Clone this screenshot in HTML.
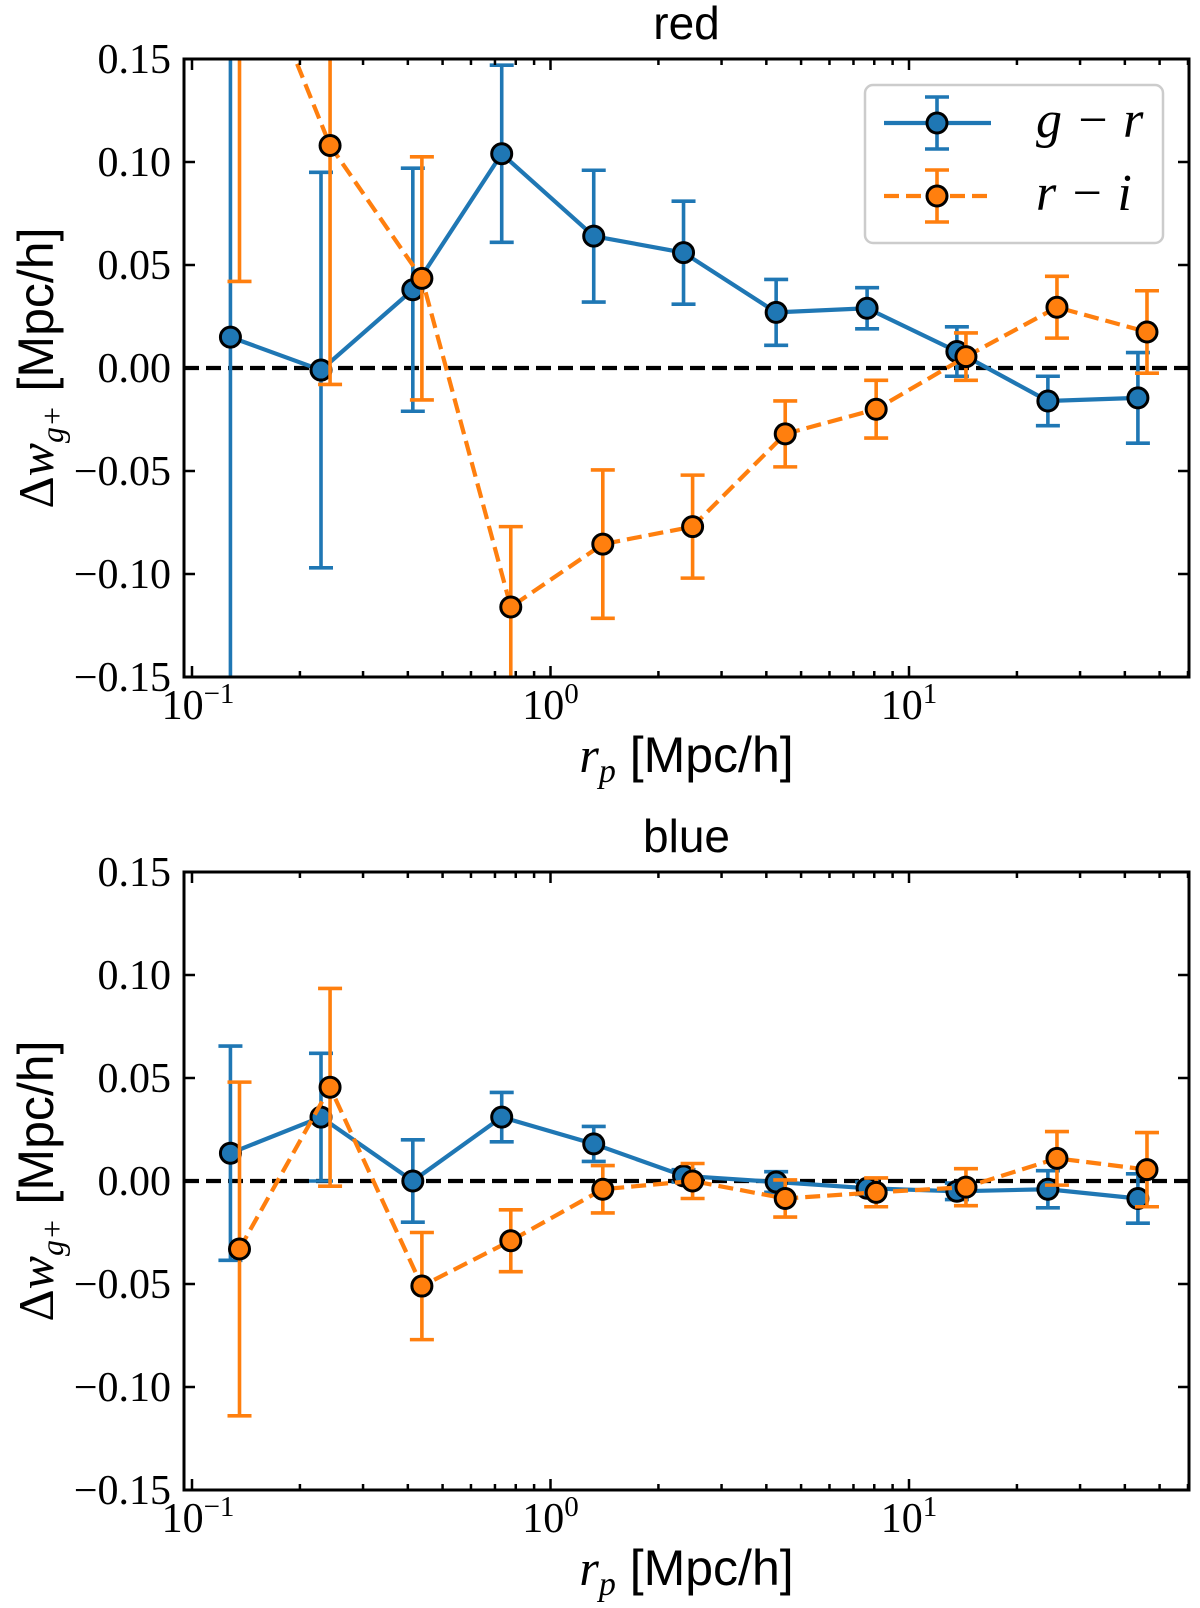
<!DOCTYPE html>
<html><head><meta charset="utf-8"><style>
body{margin:0;background:#fff}
svg{display:block}
text{font-family:"Liberation Serif",serif;fill:#000}
.sans{font-family:"Liberation Sans","DejaVu Sans",sans-serif}
</style></head><body>
<svg id="chart" width="1200" height="1608" viewBox="0 0 1200 1608" xmlns="http://www.w3.org/2000/svg"></svg>
<script>
const rp = [0.128, 0.229, 0.413, 0.731, 1.32, 2.35, 4.26, 7.64, 13.6, 24.4, 43.5];
const orangeShift = 1.06;
const yTicks = [-0.15, -0.10, -0.05, 0.00, 0.05, 0.10, 0.15];
const yTickLabels = ["\u22120.15", "\u22120.10", "\u22120.05", "0.00", "0.05", "0.10", "0.15"];
const xDecades = [-1, 0, 1];
const redGR = [0.015, -0.001, 0.038, 0.104, 0.064, 0.056, 0.027, 0.029, 0.008, -0.016, -0.0145];
const redGRerr = [0.2, 0.096, 0.059, 0.043, 0.032, 0.025, 0.016, 0.01, 0.012, 0.012, 0.022];
const redRI = [0.217, 0.108, 0.0435, -0.116, -0.0855, -0.077, -0.032, -0.020, 0.0055, 0.0295, 0.0175];
const redRIerr = [0.175, 0.116, 0.059, 0.039, 0.036, 0.025, 0.016, 0.014, 0.0115, 0.015, 0.02];
const blueGR = [0.0135, 0.031, 0.0, 0.031, 0.018, 0.0025, -0.0005, -0.0035, -0.005, -0.004, -0.0085];
const blueGRerr = [0.052, 0.031, 0.02, 0.012, 0.0085, 0.003, 0.005, 0.003, 0.004, 0.009, 0.012];
const blueRI = [-0.033, 0.0455, -0.051, -0.029, -0.004, 0.0, -0.0085, -0.0055, -0.003, 0.011, 0.0055];
const blueRIerr = [0.081, 0.048, 0.026, 0.015, 0.0115, 0.0085, 0.009, 0.007, 0.009, 0.013, 0.018];

const NS = "http://www.w3.org/2000/svg";
const svg = document.getElementById("chart");
const BLUE = "#1f77b4", ORANGE = "#ff7f0e";
const LW = 4.2, DASH = "15 7";
function mk(tag, attrs, parent) {
  const e = document.createElementNS(NS, tag);
  for (const k in attrs) e.setAttribute(k, attrs[k]);
  (parent || svg).appendChild(e);
  return e;
}
const L = 184, R = 1189, LOGMIN = -1.0223, LOGMAX = 1.781;
function xs(v) { return L + (Math.log10(v) - LOGMIN) / (LOGMAX - LOGMIN) * (R - L); }

function panel(top, title, gr, grErr, ri, riErr, idx, legend) {
  const bot = top + 618;
  const ys = v => top + (0.15 - v) / 0.30 * (bot - top);
  const g = mk("g", {});
  
  
  const cid = "clip" + idx;
  const cp = mk("clipPath", { id: cid }, g);
  mk("rect", { x: L, y: top, width: R - L, height: bot - top }, cp);
  const t = mk("text", { x: (L + R) / 2, y: top - 20, "text-anchor": "middle", "font-size": 46, class: "sans" }, g);
  t.textContent = title;
  
  
  const z = mk("line", { x1: L, x2: R, y1: ys(0), y2: ys(0), stroke: "#000", "stroke-width": LW, "stroke-dasharray": DASH }, g);
  
  
  const dg = mk("g", { "clip-path": "url(#" + cid + ")" }, g);
  function series(vals, errs, color, shift, dashed, name) {
    const sg = mk("g", {}, dg);
    
    
    vals.forEach((v, i) => {
      const x = xs(rp[i] * shift);
      const eb = mk("path", { d: `M${x},${ys(v - errs[i])}V${ys(v + errs[i])}M${x - 12},${ys(v - errs[i])}h24M${x - 12},${ys(v + errs[i])}h24`, stroke: color, "stroke-width": 3.6, fill: "none" }, sg);
      
      
    });
    const pts = vals.map((v, i) => xs(rp[i] * shift) + "," + ys(v)).join(" ");
    const pl = mk("polyline", { points: pts, fill: "none", stroke: color, "stroke-width": LW, "stroke-dasharray": dashed ? DASH : "none" }, sg);
    
    
    vals.forEach((v, i) => {
      const c = mk("circle", { cx: xs(rp[i] * shift), cy: ys(v), r: 10, fill: color, stroke: "#000", "stroke-width": 3 }, sg);
      
      
    });
  }
  series(gr, grErr, BLUE, 1, false, "g-r");
  series(ri, riErr, ORANGE, orangeShift, true, "r-i");
  const fr = mk("rect", { x: L, y: top, width: R - L, height: bot - top, fill: "none", stroke: "#000", "stroke-width": 3 }, g);
  
  
  yTicks.forEach((v, i) => {
    const y = ys(v);
    mk("path", { d: `M${L},${y}h11M${R},${y}h-11`, stroke: "#000", "stroke-width": 2.5 }, g);
    const tl = mk("text", { x: 171, y: y + 14, "text-anchor": "end", "font-size": 42 }, g);
    tl.textContent = yTickLabels[i];
    
    
  });
  for (let d = -2; d <= 2; d++) {
    for (let m = 1; m <= 9; m++) {
      const v = m * Math.pow(10, d);
      const lv = Math.log10(v);
      if (lv < LOGMIN || lv > LOGMAX) continue;
      const x = xs(v), len = m === 1 ? 11 : 6;
      mk("path", { d: `M${x},${bot}v${-len}M${x},${top}v${len}`, stroke: "#000", "stroke-width": 2.5 }, g);
    }
  }
  xDecades.forEach(d => {
    const x = xs(Math.pow(10, d));
    const tl = mk("text", { x: x + (d < 0 ? 6 : 0), y: bot + 42, "text-anchor": "middle", "font-size": 42 }, g);
    
    
    tl.appendChild(document.createTextNode("10"));
    const s = mk("tspan", { dy: -16, "font-size": 29 }, tl);
    s.textContent = d < 0 ? "\u2212" + Math.abs(d) : String(d);
  });
  const xl = mk("text", { x: (L + R) / 2, y: bot + 95, "text-anchor": "middle", "font-size": 50 }, g);
  
  
  const a = mk("tspan", { "font-style": "italic" }, xl); a.textContent = "r";
  const b = mk("tspan", { "font-style": "italic", "font-size": 34, dy: 10 }, xl); b.textContent = "p";
  const c = mk("tspan", { dy: -10, "font-family": "Liberation Sans, sans-serif" }, xl); c.textContent = " [Mpc/h]";
  const cy = (top + bot) / 2;
  const yl = mk("text", { x: 0, y: 0, transform: `translate(53,${cy}) rotate(-90)`, "text-anchor": "middle", "font-size": 50 }, g);
  
  
  const p1 = mk("tspan", {}, yl); p1.textContent = "\u0394";
  const p2 = mk("tspan", { "font-style": "italic" }, yl); p2.textContent = "w";
  const p3 = mk("tspan", { "font-style": "italic", "font-size": 32, dy: 10 }, yl); p3.textContent = "g+";
  const p4 = mk("tspan", { dy: -10, "font-family": "Liberation Sans, sans-serif" }, yl); p4.textContent = " [Mpc/h]";

  if (legend) {
    const lg = mk("g", {}, g);
    
    
    mk("rect", { x: 865, y: 85, width: 298, height: 158, rx: 8, fill: "#fff", stroke: "#ccc", "stroke-width": 2.5 }, lg);
    [[123, BLUE, false, "g \u2212 r"], [196, ORANGE, true, "r \u2212 i"]].forEach(([y, col, dash, lab]) => {
      const e = mk("g", {}, lg);
      
      
      mk("line", { x1: 884, x2: 991, y1: y, y2: y, stroke: col, "stroke-width": LW, "stroke-dasharray": dash ? DASH : "none" }, e);
      mk("path", { d: `M937,${y - 26}V${y + 26}M925,${y - 26}h24M925,${y + 26}h24`, stroke: col, "stroke-width": 3.6 }, e);
      mk("circle", { cx: 937, cy: y, r: 10, fill: col, stroke: "#000", "stroke-width": 3 }, e);
      const tx = mk("text", { x: 1036, y: y + 14, "font-size": 52, "font-style": "italic" }, e);
      tx.textContent = lab;
    });
  }
}
panel(59, "red", redGR, redGRerr, redRI, redRIerr, 1, true);
panel(872, "blue", blueGR, blueGRerr, blueRI, blueRIerr, 2, false);
</script>
</body></html>
